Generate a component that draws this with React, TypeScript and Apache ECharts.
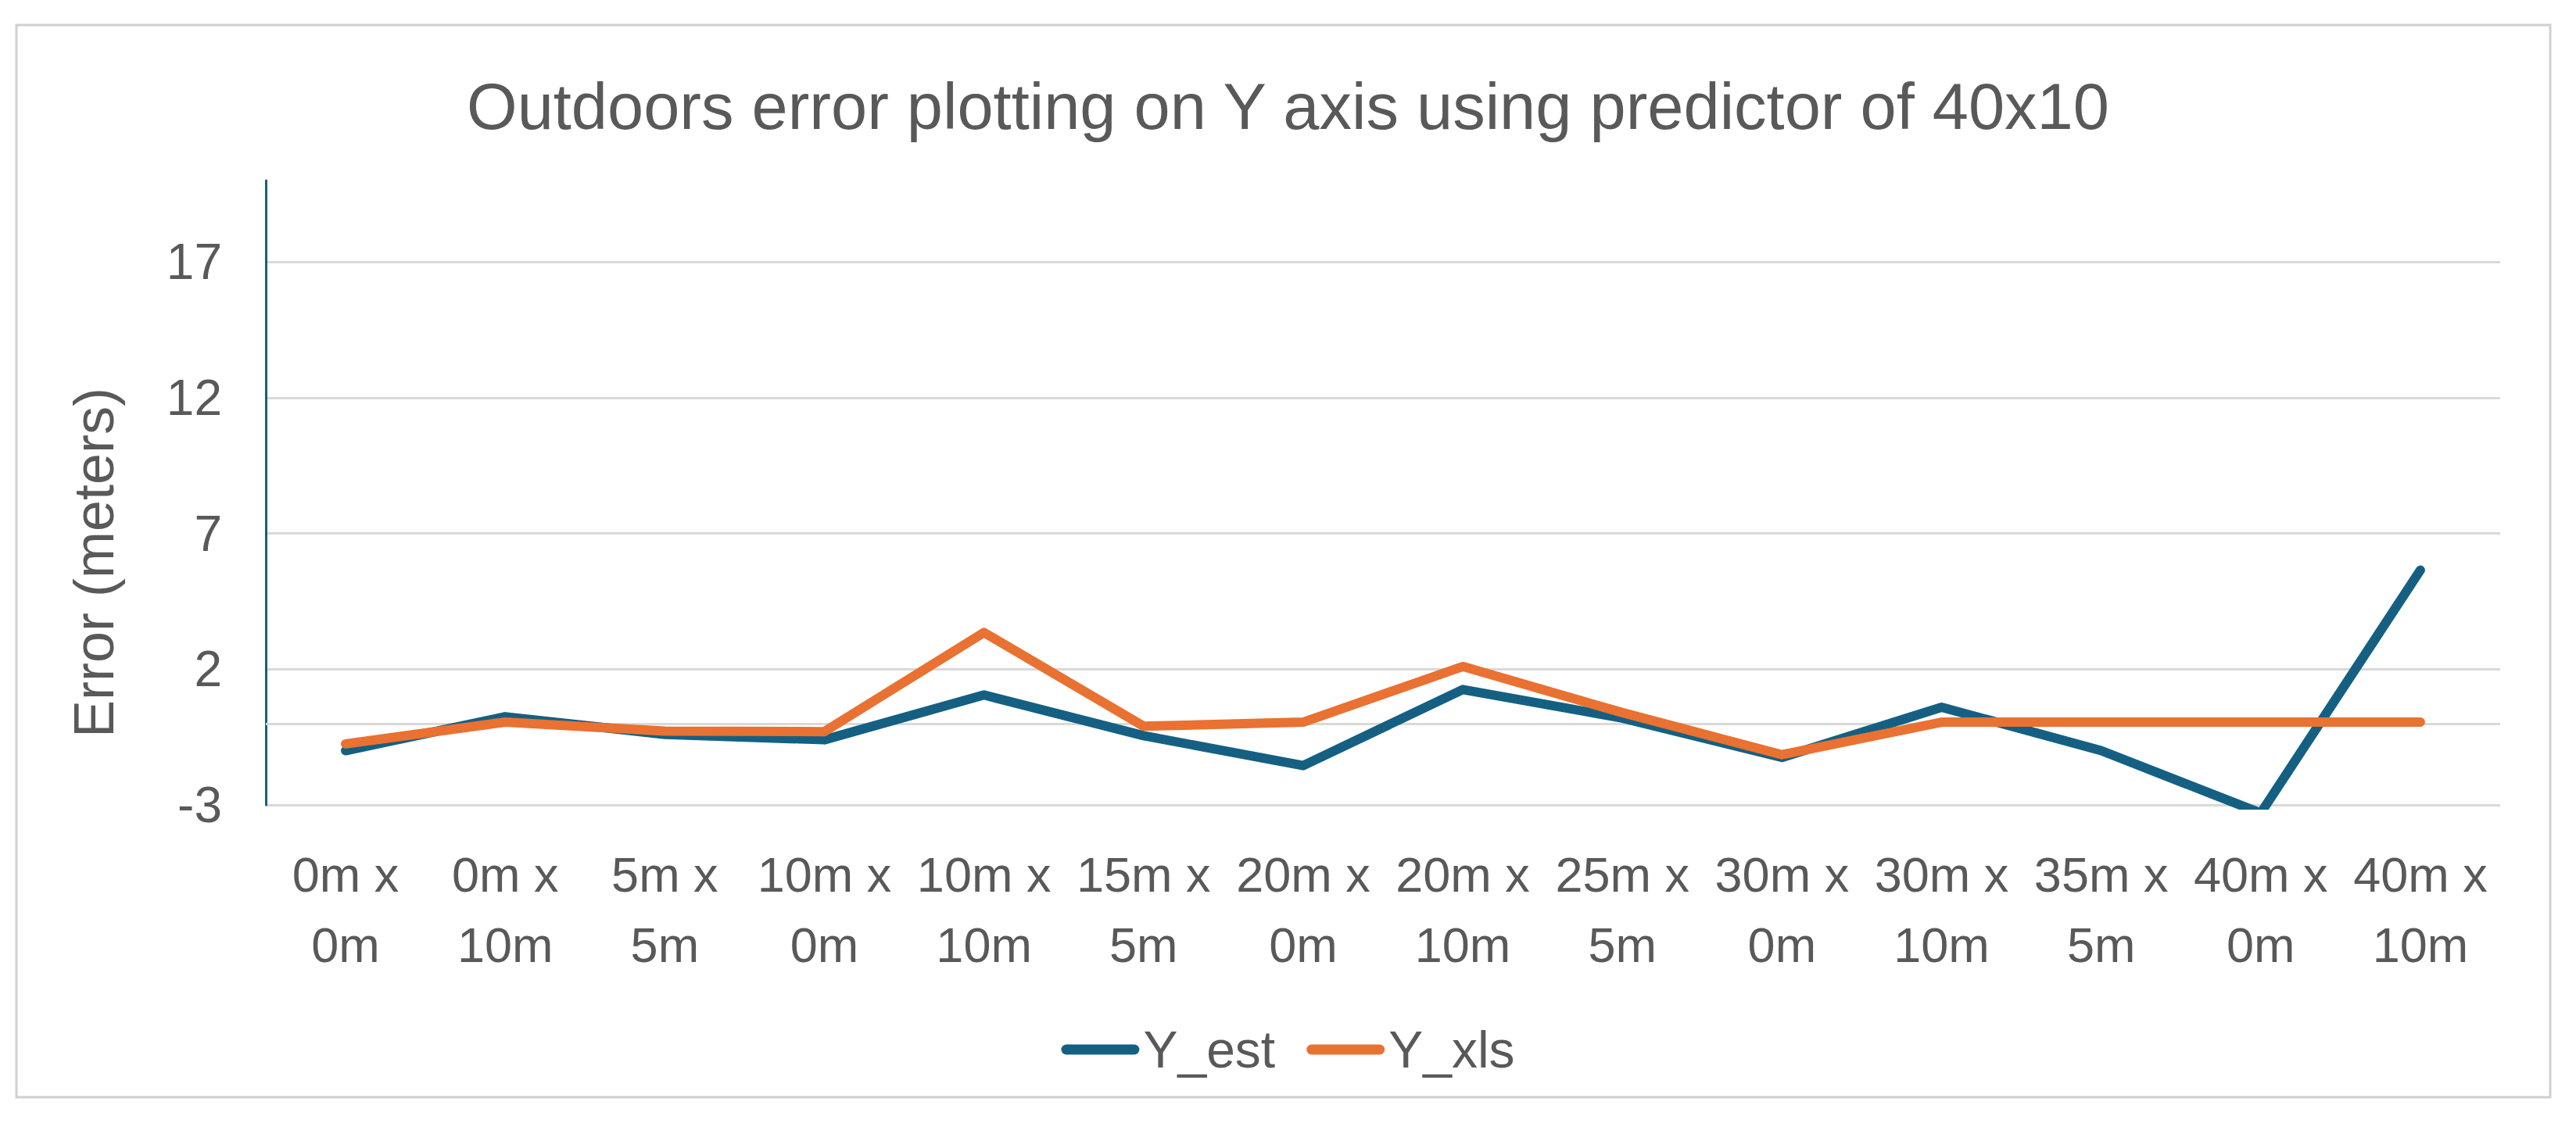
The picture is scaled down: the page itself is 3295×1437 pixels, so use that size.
import React, { useEffect, useRef } from "react";
import * as echarts from "echarts";

const titleText = "Outdoors error plotting on Y axis using predictor of 40x10";
const yAxisTitle = "Error (meters)";
const categories = [
  "0m x\n0m",
  "0m x\n10m",
  "5m x\n5m",
  "10m x\n0m",
  "10m x\n10m",
  "15m x\n5m",
  "20m x\n0m",
  "20m x\n10m",
  "25m x\n5m",
  "30m x\n0m",
  "30m x\n10m",
  "35m x\n5m",
  "40m x\n0m",
  "40m x\n10m",
];
const yEst = [-1.0, 0.25, -0.4, -0.6, 1.05, -0.45, -1.55, 1.25, 0.2, -1.25, 0.6, -1.0, -3.3, 5.65];
const yXls = [-0.75, 0.05, -0.28, -0.3, 3.35, -0.1, 0.05, 2.1, 0.4, -1.15, 0.05, 0.05, 0.05, 0.05];
const yMin = -3;
const yMax = 20;
const yInterval = 5;

const FONT = "'Liberation Sans', Arial, sans-serif";
const TEXT = "#595959";
const BLUE = "#156082";
const ORANGE = "#E97132";
const GRID = "#d9d9d9";
const LEGEND_ICON = "path://M6.5,0 L93.5,0 A6.5,6.5 0 0 1 93.5,13 L6.5,13 A6.5,6.5 0 0 1 6.5,0 Z";

export default function App() {
  const ref = useRef<HTMLDivElement>(null);
  useEffect(() => {
    if (!ref.current) return;
    const chart = echarts.init(ref.current, undefined, { renderer: "svg" });
    chart.setOption({
      animation: false,
      backgroundColor: "#ffffff",
      title: {
        text: titleText,
        left: "center",
        top: 90,
        textStyle: { fontFamily: FONT, fontSize: 83, fontWeight: "normal", color: TEXT },
      },
      graphic: [
        {
          type: "rect",
          shape: { x: 21, y: 32, width: 3241, height: 1372 },
          style: { fill: "none", stroke: "#d0d0d0", lineWidth: 3 },
          silent: true,
        },
        {
          type: "text",
          x: 120,
          y: 720,
          rotation: Math.PI / 2,
          style: {
            text: yAxisTitle,
            fontFamily: FONT,
            fontSize: 72,
            fill: TEXT,
            align: "center",
            verticalAlign: "middle",
          },
          silent: true,
        },
      ],
      legend: {
        data: ["Y_est", "Y_xls"],
        left: "center",
        top: 1305,
        icon: LEGEND_ICON,
        itemWidth: 100,
        itemHeight: 13,
        itemGap: 40,
        textStyle: { fontFamily: FONT, fontSize: 66, color: TEXT },
      },
      grid: { left: 340, right: 97, top: 231, bottom: 407, containLabel: false },
      xAxis: {
        type: "category",
        data: categories,
        boundaryGap: true,
        axisLine: { show: false, onZero: false },
        axisTick: { show: false },
        axisLabel: {
          interval: 0,
          margin: 44,
          fontFamily: FONT,
          fontSize: 63,
          lineHeight: 90,
          color: TEXT,
        },
        splitLine: { show: false },
      },
      yAxis: {
        type: "value",
        min: yMin,
        max: yMax,
        interval: yInterval,
        axisLine: { show: true, lineStyle: { color: BLUE, width: 3 } },
        axisTick: { show: false },
        axisLabel: {
          showMaxLabel: false,
          margin: 56,
          fontFamily: FONT,
          fontSize: 64,
          color: TEXT,
        },
        splitLine: { show: true, showMaxLine: false, lineStyle: { color: GRID, width: 3 } },
      },
      series: [
        {
          name: "Y_est",
          type: "line",
          data: yEst,
          symbol: "none",
          color: BLUE,
          itemStyle: { color: BLUE },
          lineStyle: { color: BLUE, width: 12, cap: "round", join: "round" },
          markLine: {
            z: 1,
            silent: true,
            symbol: ["none", "none"],
            label: { show: false },
            lineStyle: { color: GRID, width: 3, type: "solid" },
            emphasis: { disabled: true },
            data: [{ yAxis: 0 }],
          },
        },
        {
          name: "Y_xls",
          type: "line",
          data: yXls,
          symbol: "none",
          color: ORANGE,
          itemStyle: { color: ORANGE },
          lineStyle: { color: ORANGE, width: 12, cap: "round", join: "round" },
        },
      ],
    });
    return () => chart.dispose();
  }, []);
  return (
    <div
      ref={ref}
      style={{ position: "absolute", left: 0, top: 0, width: 3295, height: 1437 }}
    />
  );
}
